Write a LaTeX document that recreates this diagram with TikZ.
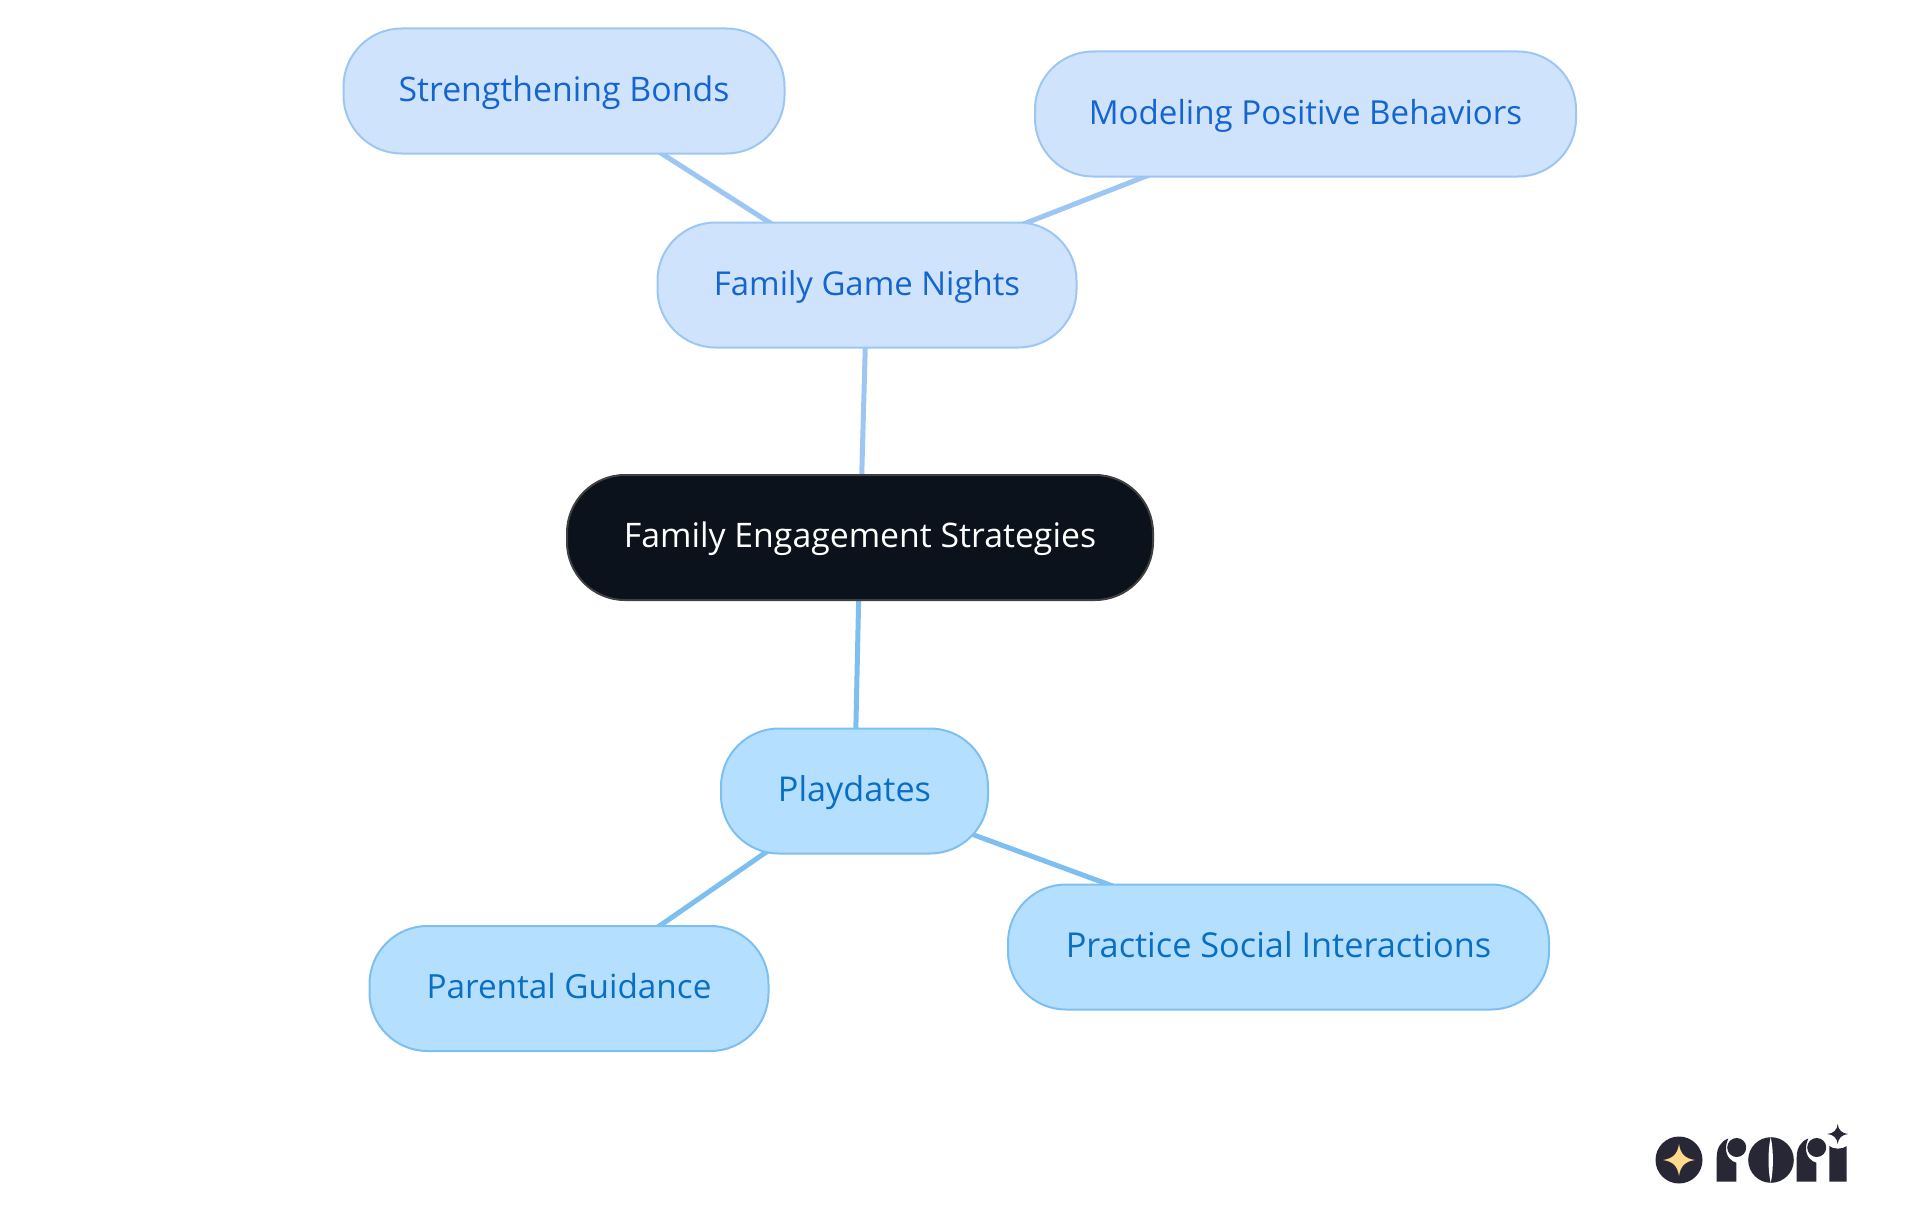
\documentclass[tikz,border=0pt]{standalone}
\usepackage{fontspec}
\setmainfont{Open Sans}
\usetikzlibrary{backgrounds}
\definecolor{upfill}{HTML}{CFE3FC}
\definecolor{upline}{HTML}{9DC6F3}
\definecolor{uptext}{HTML}{1565D0}
\definecolor{lowfill}{HTML}{B5DFFF}
\definecolor{lowline}{HTML}{7DC0F0}
\definecolor{lowtext}{HTML}{0A6FC2}
\definecolor{rootfill}{HTML}{0B121B}
\definecolor{logodark}{HTML}{282736}
\definecolor{logostar}{HTML}{FFD98C}

\begin{document}
\begin{tikzpicture}
      [
        x=1pt,
        y=-1pt,
        box/.style={rounded corners=58pt,line width=2pt,inner sep=0pt,minimum height=125pt,text height=25.5pt,text depth=4.9pt},
        fs/.style={font=\fontsize{#1}{40}\selectfont},
        upbox/.style={box,draw=upline,fill=upfill,text=uptext},
        lowbox/.style={box,draw=lowline,fill=lowfill,text=lowtext},
        rootbox/.style={box,draw=black!75,fill=rootfill,text=white},
        upedge/.style={upline,line width=5pt},
        lowedge/.style={lowline,line width=5pt}
      ]
      \useasboundingbox (0,0) rectangle (1920,1215);
      % root
      \node [rootbox,fs=33.8,minimum width=586pt] (root) at (860,537.5) {Family Engagement Strategies};
      % upper branch
      \node [upbox,fs=32.9,minimum width=419pt] (games) at (867,285) {Family Game Nights};
      \node [upbox,fs=33.8,minimum width=441pt] (bonds) at (564,91) {Strengthening Bonds};
      \node [upbox,fs=33.1,minimum width=541pt] (model) at (1305.5,114) {Modeling Positive Behaviors};
      % lower branch
      \node [lowbox,fs=34.2,minimum width=267pt] (play) at (854.5,791) {Playdates};
      \node [lowbox,fs=33.3,minimum width=399pt] (guide) at (569,988.5) {Parental Guidance};
      \node [lowbox,fs=34.3,minimum width=541pt] (social) at (1278.5,947) {Practice Social Interactions};
      % edges
      \begin{pgfonlayer}{background}
        \draw [upedge] (root.center) -- (games.center);
        \draw [upedge] (games.center) -- (bonds.center);
        \draw [upedge] (games.center) -- (model.center);
        \draw [lowedge] (root.center) -- (play.center);
        \draw [lowedge] (play.center) -- (guide.center);
        \draw [lowedge] (play.center) -- (social.center);
      \end{pgfonlayer}
      % logo
      \fill [logodark] (1679,1160) circle (23.5);
      \fill [logostar] (1679,1144) .. controls (1680.5,1154) and (1685,1158.5) .. (1695,1160) .. controls (1685,1161.5) and (1680.5,1166) .. (1679,1176) .. controls (1677.5,1166) and (1673,1161.5) .. (1663,1160) .. controls (1673,1158.5) and (1677.5,1154) .. (1679,1144) -- cycle;
      % r, o, r
      \foreach \x in {0,80} {
          \fill [logodark] (1716.7+\x,1181.5) -- (1716.7+\x,1157) .. controls (1716.7+\x,1148) and (1721+\x,1141) .. (1728.3+\x,1138.5) .. controls (1723+\x,1150) and (1727+\x,1160) .. (1736.3+\x,1162.7) -- (1736.3+\x,1181.5) -- cycle;
          \fill [logodark] (1736.7+\x,1147.5) circle (9.5);
      }
      \fill [logodark] (1771,1160) circle (22.8);
      \fill [white] (1770.7,1137) .. controls (1767.8,1150) and (1767.8,1170) .. (1770.7,1183) .. controls (1773.6,1170) and (1773.6,1150) .. (1770.7,1137) -- cycle;
      % i
      \fill [logodark] (1829.3,1181.5) -- (1829.3,1146) .. controls (1833,1149.5) and (1843,1149.5) .. (1846.7,1146) -- (1846.7,1181.5) -- cycle;
      \fill [logodark] (1837.7,1124) .. controls (1838.3,1130) and (1842,1133.5) .. (1848.2,1134) .. controls (1842,1134.5) and (1838.3,1138) .. (1837.7,1144) .. controls (1837.1,1138) and (1833.4,1134.5) .. (1827.2,1134) .. controls (1833.4,1133.5) and (1837.1,1130) .. (1837.7,1124) -- cycle;
\end{tikzpicture}
\end{document}
